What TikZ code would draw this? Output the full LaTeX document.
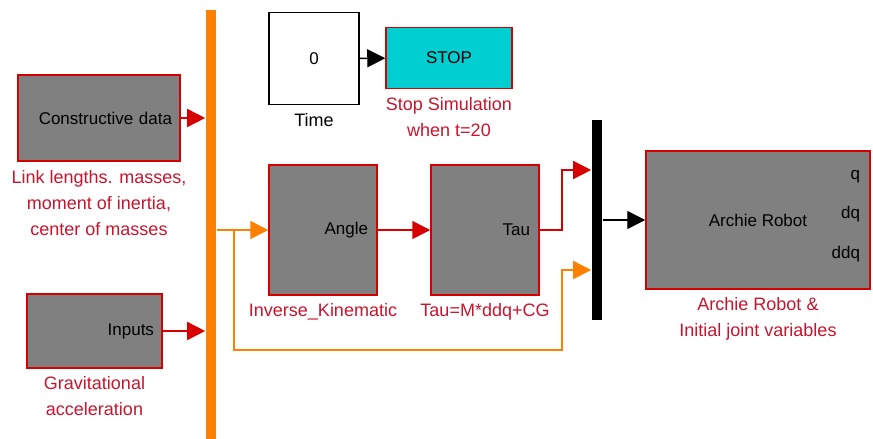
\documentclass[tikz,border=0pt]{standalone}
\usepackage{fontspec}
\setmainfont{Liberation Sans}
\usetikzlibrary{arrows.meta, positioning}

\definecolor{simred}{RGB}{214,0,0}
\definecolor{lblred}{RGB}{200,20,45}
\definecolor{simorange}{RGB}{255,128,0}
\definecolor{simcyan}{RGB}{0,206,209}
\definecolor{simgray}{RGB}{128,128,128}

\begin{document}
\begin{tikzpicture}[
            x = 1pt, y = -1pt, % pixel grid, y going down
            > = {Triangle[length=18pt, width=18pt]}, % arrow head style
            node distance = 7pt, % gap between block and its caption
            line width = 1.6pt % line style
        ]

        \tikzstyle{block}=[
            draw = simred,
            fill = simgray,
            line width = 1.5pt,
            inner sep = 0pt,
            font = \fontsize{17}{20}\selectfont
        ]
        \tikzstyle{lbl}=[
            text = lblred,
            align = center,
            inner sep = 0pt,
            font = \fontsize{18}{26}\selectfont
        ]
        \tikzstyle{bar}=[draw = none, inner sep = 0pt, minimum width = 10pt]
        \tikzstyle{redwire}=[draw = simred, ->]
        \tikzstyle{orangewire}=[draw = simorange, ->]
        \tikzstyle{blackwire}=[draw = black, line width = 1.4pt, ->]

        \useasboundingbox (0,0) rectangle (873,439);

        % blocks
        \node[block, minimum width=162pt, minimum height=86pt, text width=146pt, align=right] (cd) at (99,118) {Constructive data};
        \node[block, minimum width=135pt, minimum height=74pt, text width=119pt, align=right] (inp) at (94.5,331) {Inputs};
        \node[block, draw=black, fill=white, minimum width=90pt, minimum height=92pt] (time) at (314,58.5) {0};
        \node[block, fill=simcyan, minimum width=126pt, minimum height=61pt] (stop) at (449,58) {STOP};
        \node[block, minimum width=108pt, minimum height=130pt, text width=90pt, align=right] (ik) at (323,230) {Angle};
        \node[block, minimum width=108pt, minimum height=130pt, text width=90pt, align=right] (tau) at (485,230) {Tau};
        \node[block, minimum width=224pt, minimum height=138pt] (arch) at (758,220) {Archie Robot};

        \node[bar, fill=simorange, minimum height=435pt] (bus) at (211,227.5) {};
        \node[bar, fill=black, minimum height=200pt] (mux) at (597,220) {};

        % port names
        \node[block, draw=none, fill=none, anchor=mid east] (pq) at ([shift={(-10,27)}]arch.north east) {q};
        \node[block, draw=none, fill=none, anchor=mid east] (pdq) at ([shift={(-10,66)}]arch.north east) {dq};
        \node[block, draw=none, fill=none, anchor=mid east] (pddq) at ([shift={(-10,106)}]arch.north east) {ddq};

        % captions
        \node[lbl, below=8pt of cd] (cdlbl) {Link lengths. masses,\\moment of inertia,\\center of masses};
        \node[lbl, below=of inp] (inplbl) {Gravitational\\acceleration};
        \node[lbl, below=of time, text=black] (timelbl) {Time};
        \node[lbl, below=of stop] (stoplbl) {Stop Simulation\\when t=20};
        \node[lbl, below=of ik] (iklbl) {Inverse\_Kinematic};
        \node[lbl, below=of tau] (taulbl) {Tau=M*ddq+CG};
        \node[lbl, below=of arch] (archlbl) {Archie Robot \&\\Initial joint variables};

        % mux inputs and branch point
        \coordinate (mxa) at ([yshift=50pt]mux.west);
        \coordinate (mxb) at ([yshift=-50pt]mux.west);
        \path (ik.west -| bus.east) ++(17,0) coordinate (br);

        % wires
        \draw[redwire] (cd.east) -- (cd.east -| bus.west);
        \draw[redwire] (inp.east) -- (inp.east -| bus.west);
        \draw[blackwire] (time) -- (stop);
        \draw[orangewire] (ik.west -| bus.east) -- (ik.west);
        \draw[redwire] (ik) -- (tau);
        \draw[redwire] (tau.east) -| ([xshift=-29pt]mxa) -- (mxa);
        \draw[orangewire] (br) -- ++(0,120) -| ([xshift=-29pt]mxb) -- (mxb);
        \draw[blackwire] (mux.east) -- (mux.east -| arch.west);

  \end{tikzpicture}
\end{document}
